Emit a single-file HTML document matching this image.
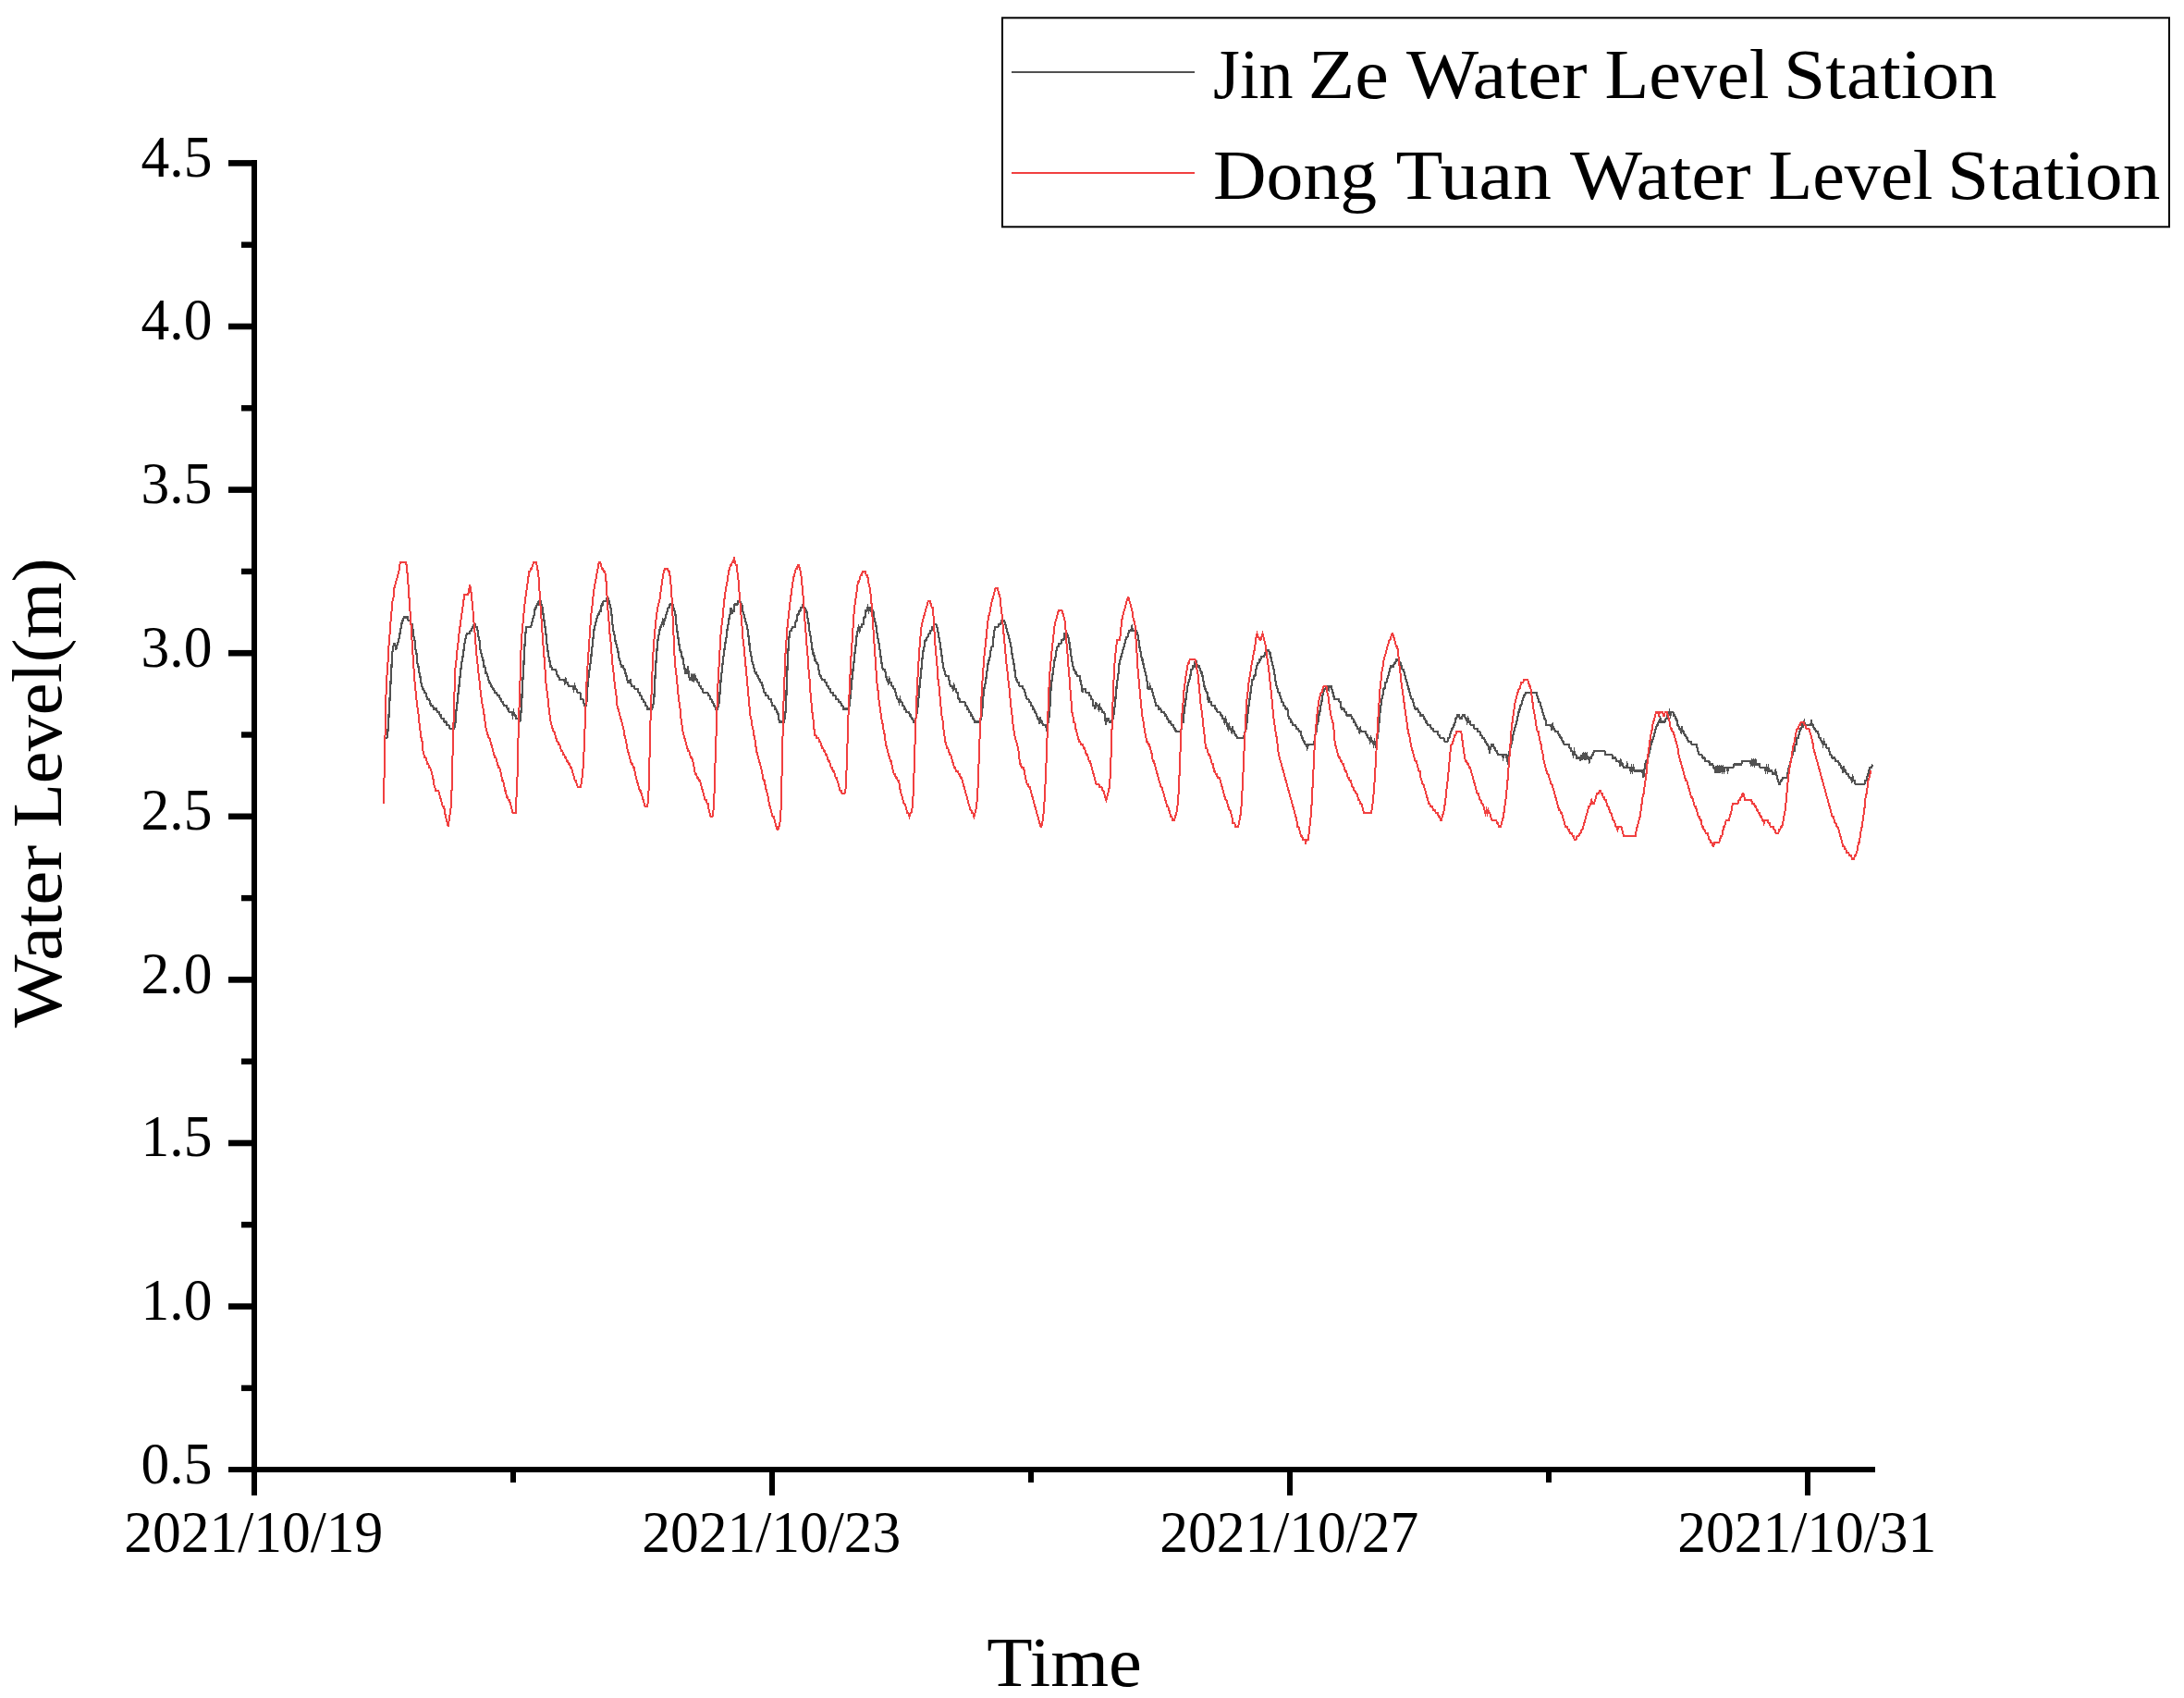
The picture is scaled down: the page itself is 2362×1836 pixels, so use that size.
<!DOCTYPE html>
<html lang="en"><head><meta charset="utf-8"><title>Water Level</title>
<style>html,body{margin:0;padding:0;background:#fff}svg{display:block}</style></head>
<body>
<svg width="2362" height="1836" viewBox="0 0 2362 1836">
<rect width="2362" height="1836" fill="#fff"/>
<polyline fill="none" stroke="#515151" stroke-width="2.2" stroke-linejoin="miter" shape-rendering="crispEdges" points="415.5,798.23 418.42,798.23 419.39,791.17 420.36,777.04 421.33,759.38 422.3,741.72 423.28,724.06 424.25,706.4 425.22,699.34 426.19,695.8 427.16,695.8 428.14,702.87 429.11,699.34 430.08,695.8 431.05,692.27 432.02,688.74 433,681.68 433.97,678.14 434.94,671.08 435.91,671.08 436.88,667.55 440.77,667.55 441.74,671.08 443.69,671.08 444.66,674.61 445.63,674.61 446.6,681.68 447.58,688.74 448.55,692.27 449.52,702.87 450.49,706.4 451.46,717 452.44,720.53 453.41,727.59 454.38,731.12 455.35,738.19 456.32,741.72 457.3,745.25 458.27,745.25 459.24,748.78 460.21,748.78 461.18,752.32 462.16,755.85 464.1,755.85 465.07,759.38 466.04,762.91 467.99,762.91 468.96,766.44 471.88,766.44 472.85,769.98 474.79,769.98 475.76,773.51 476.74,773.51 477.71,777.04 479.65,777.04 480.62,780.57 482.57,780.57 483.54,784.1 485.48,784.1 486.46,787.64 491.32,787.64 492.29,784.1 493.26,769.98 494.23,762.91 495.2,752.32 496.18,745.25 497.15,734.66 498.12,727.59 499.09,717 500.06,713.46 501.04,706.4 502.01,699.34 502.98,692.27 503.95,688.74 504.92,685.21 507.84,685.21 508.81,681.68 509.78,681.68 510.76,678.14 511.73,678.14 512.7,674.61 513.67,674.61 514.64,678.14 515.62,678.14 516.59,681.68 517.56,688.74 518.53,692.27 519.5,702.87 520.48,706.4 521.45,709.93 522.42,713.46 523.39,720.53 524.36,720.53 525.34,727.59 526.31,727.59 527.28,731.12 528.25,734.66 529.22,738.19 530.2,738.19 531.17,741.72 532.14,741.72 533.11,745.25 534.08,745.25 535.06,748.78 537,748.78 537.97,752.32 539.92,752.32 540.89,755.85 541.86,755.85 542.83,759.38 543.8,759.38 544.78,762.91 547.69,762.91 548.66,766.44 549.64,766.44 550.61,769.98 553.52,769.98 554.5,773.51 555.47,769.98 556.44,773.51 557.41,773.51 558.38,777.04 561.3,777.04 562.27,780.57 563.24,773.51 564.22,759.38 565.19,738.19 566.16,724.06 567.13,702.87 568.1,688.74 569.08,678.14 573.94,678.14 574.91,674.61 575.88,671.08 576.85,667.55 577.82,664.02 578.8,656.95 579.77,656.95 580.74,653.42 581.71,653.42 582.68,649.89 584.63,649.89 585.6,653.42 586.57,656.95 587.54,664.02 588.52,671.08 589.49,678.14 590.46,685.21 591.43,695.8 592.4,702.87 593.38,709.93 594.35,713.46 595.32,720.53 596.29,720.53 597.26,724.06 601.15,724.06 602.12,727.59 603.1,731.12 604.07,731.12 605.04,734.66 609.9,734.66 610.87,738.19 611.84,734.66 612.82,738.19 613.79,738.19 614.76,741.72 619.62,741.72 620.59,745.25 621.56,741.72 622.54,745.25 623.51,745.25 624.48,748.78 627.4,748.78 628.37,755.85 630.31,755.85 631.28,759.38 632.26,762.91 634.2,762.91 635.17,745.25 636.14,734.66 637.12,727.59 638.09,720.53 639.06,713.46 640.03,702.87 641,695.8 641.98,685.21 642.95,678.14 643.92,674.61 644.89,671.08 645.86,667.55 646.84,664.02 647.81,664.02 648.78,660.48 649.75,660.48 650.72,653.42 651.7,653.42 652.67,649.89 655.58,649.89 656.56,646.36 657.53,646.36 658.5,649.89 659.47,653.42 660.44,656.95 661.42,664.02 662.39,674.61 663.36,681.68 664.33,685.21 665.3,692.27 666.28,695.8 667.25,699.34 668.22,702.87 669.19,709.93 670.16,713.46 671.14,717 672.11,720.53 674.05,720.53 675.02,724.06 676,724.06 676.97,731.12 677.94,731.12 678.91,738.19 680.86,738.19 681.83,734.66 682.8,741.72 685.72,741.72 686.69,745.25 689.6,745.25 690.58,748.78 691.55,748.78 692.52,752.32 693.49,752.32 694.46,755.85 695.44,755.85 696.41,759.38 697.38,759.38 698.35,762.91 699.32,762.91 700.3,766.44 705.16,766.44 706.13,762.91 707.1,759.38 708.07,741.72 709.04,720.53 710.02,709.93 710.99,695.8 711.96,688.74 712.93,685.21 713.9,678.14 714.88,678.14 715.85,674.61 716.82,671.08 717.79,674.61 718.76,671.08 719.74,667.55 720.71,664.02 721.68,660.48 722.65,656.95 723.62,656.95 724.6,653.42 727.51,653.42 728.48,656.95 729.46,660.48 730.43,664.02 731.4,674.61 732.37,681.68 733.34,688.74 734.32,695.8 735.29,702.87 736.26,702.87 737.23,709.93 738.2,709.93 739.18,717 740.15,720.53 741.12,727.59 743.06,727.59 744.04,720.53 745.01,731.12 745.98,734.66 746.95,734.66 747.92,731.12 748.9,734.66 749.87,731.12 750.84,734.66 751.81,731.12 752.78,734.66 753.76,734.66 754.73,738.19 755.7,738.19 756.67,741.72 757.64,741.72 758.62,745.25 759.59,745.25 760.56,748.78 765.42,748.78 766.39,752.32 767.36,752.32 768.34,755.85 769.31,755.85 770.28,759.38 771.25,759.38 772.22,762.91 773.2,762.91 774.17,766.44 776.11,766.44 777.08,762.91 778.06,755.85 779.03,741.72 780,731.12 780.97,724.06 781.94,713.46 782.92,706.4 783.89,699.34 784.86,692.27 785.83,688.74 786.8,678.14 787.78,674.61 788.75,667.55 789.72,664.02 790.69,656.95 791.66,664.02 792.64,660.48 793.61,660.48 794.58,653.42 797.5,653.42 798.47,649.89 800.41,649.89 801.38,653.42 802.36,653.42 803.33,660.48 804.3,664.02 805.27,667.55 806.24,671.08 807.22,674.61 808.19,678.14 809.16,685.21 810.13,692.27 811.1,702.87 812.08,706.4 813.05,713.46 814.02,717 814.99,720.53 815.96,724.06 816.94,727.59 817.91,727.59 818.88,731.12 819.85,731.12 820.82,734.66 821.8,734.66 822.77,738.19 823.74,738.19 824.71,741.72 825.68,745.25 826.66,748.78 827.63,748.78 828.6,752.32 830.54,752.32 831.52,755.85 833.46,755.85 834.43,759.38 835.4,762.91 837.35,762.91 838.32,766.44 839.29,766.44 840.26,769.98 841.24,769.98 842.21,777.04 843.18,780.57 848.04,780.57 849.01,773.51 849.98,766.44 850.96,734.66 851.93,713.46 852.9,695.8 853.87,685.21 854.84,681.68 855.82,681.68 856.79,678.14 859.7,678.14 860.68,671.08 861.65,671.08 862.62,664.02 863.59,664.02 864.56,660.48 865.54,660.48 866.51,656.95 867.48,656.95 868.45,653.42 869.42,656.95 870.4,656.95 871.37,660.48 872.34,660.48 873.31,667.55 874.28,671.08 875.26,681.68 876.23,685.21 877.2,692.27 878.17,699.34 879.14,706.4 880.12,706.4 881.09,713.46 882.06,713.46 883.03,717 884,717 884.98,720.53 885.95,727.59 886.92,731.12 887.89,731.12 888.86,734.66 891.78,734.66 892.75,738.19 893.72,738.19 894.7,741.72 895.67,741.72 896.64,745.25 897.61,745.25 898.58,748.78 900.53,748.78 901.5,752.32 903.44,752.32 904.42,755.85 906.36,755.85 907.33,759.38 909.28,759.38 910.25,762.91 911.22,762.91 912.19,766.44 918.02,766.44 919,759.38 919.97,752.32 920.94,738.19 921.91,731.12 922.88,720.53 923.86,713.46 924.83,702.87 925.8,695.8 926.77,685.21 927.74,681.68 928.72,678.14 929.69,681.68 930.66,678.14 931.63,678.14 932.6,674.61 933.58,674.61 934.55,667.55 935.52,667.55 936.49,660.48 937.46,660.48 938.44,656.95 939.41,660.48 940.38,656.95 941.35,656.95 942.32,660.48 944.27,660.48 945.24,667.55 946.21,671.08 947.18,674.61 948.16,681.68 949.13,688.74 950.1,692.27 951.07,699.34 952.04,706.4 953.02,713.46 953.99,720.53 954.96,724.06 956.9,724.06 957.88,727.59 958.85,734.66 959.82,734.66 960.79,738.19 961.76,734.66 962.74,738.19 963.71,738.19 964.68,741.72 965.65,741.72 966.62,745.25 967.6,745.25 968.57,748.78 969.54,752.32 970.51,755.85 971.48,755.85 972.46,759.38 973.43,755.85 974.4,759.38 975.37,759.38 976.34,762.91 977.32,762.91 978.29,766.44 979.26,766.44 980.23,769.98 983.15,769.98 984.12,773.51 985.09,773.51 986.06,777.04 987.04,777.04 988.01,780.57 989.95,780.57 990.92,773.51 991.9,769.98 992.87,759.38 993.84,752.32 994.81,738.19 995.78,731.12 996.76,720.53 997.73,709.93 998.7,702.87 999.67,699.34 1000.64,692.27 1001.62,692.27 1002.59,688.74 1003.56,688.74 1004.53,685.21 1005.5,685.21 1006.48,681.68 1007.45,681.68 1008.42,678.14 1009.39,678.14 1010.36,674.61 1012.31,674.61 1013.28,678.14 1014.25,681.68 1015.22,688.74 1016.2,692.27 1017.17,699.34 1018.14,706.4 1019.11,713.46 1020.08,720.53 1021.06,724.06 1022.03,727.59 1023,731.12 1025.92,731.12 1026.89,738.19 1027.86,741.72 1029.8,741.72 1030.78,745.25 1031.75,741.72 1032.72,745.25 1033.69,745.25 1034.66,748.78 1035.64,748.78 1036.61,755.85 1037.58,755.85 1038.55,759.38 1043.41,759.38 1044.38,762.91 1045.36,762.91 1046.33,766.44 1047.3,766.44 1048.27,769.98 1049.24,769.98 1050.22,773.51 1051.19,773.51 1052.16,777.04 1053.13,777.04 1054.1,780.57 1059.94,780.57 1060.91,777.04 1061.88,773.51 1062.85,759.38 1063.82,748.78 1064.8,741.72 1065.77,738.19 1066.74,731.12 1067.71,724.06 1068.68,717 1069.66,713.46 1070.63,709.93 1071.6,702.87 1072.57,699.34 1073.54,699.34 1074.52,688.74 1075.49,681.68 1076.46,678.14 1079.38,678.14 1080.35,674.61 1082.29,674.61 1083.26,671.08 1086.18,671.08 1087.15,674.61 1088.12,678.14 1089.1,681.68 1090.07,685.21 1091.04,688.74 1092.01,692.27 1092.98,695.8 1093.96,702.87 1094.93,709.93 1095.9,713.46 1096.87,720.53 1097.84,727.59 1098.82,734.66 1099.79,734.66 1100.76,738.19 1101.73,738.19 1102.7,741.72 1105.62,741.72 1106.59,745.25 1107.56,745.25 1108.54,748.78 1109.51,752.32 1110.48,755.85 1112.42,755.85 1113.4,759.38 1114.37,759.38 1115.34,762.91 1116.31,762.91 1117.28,766.44 1118.26,766.44 1119.23,769.98 1120.2,769.98 1121.17,773.51 1122.14,777.04 1123.12,777.04 1124.09,780.57 1125.06,777.04 1126.03,780.57 1127,780.57 1127.98,784.1 1130.89,784.1 1131.86,787.64 1132.84,784.1 1133.81,780.57 1134.78,773.51 1135.75,759.38 1136.72,741.72 1137.7,734.66 1138.67,727.59 1139.64,720.53 1140.61,713.46 1141.58,709.93 1142.56,702.87 1143.53,699.34 1144.5,699.34 1145.47,695.8 1147.42,695.8 1148.39,692.27 1150.33,692.27 1151.3,685.21 1154.22,685.21 1155.19,688.74 1156.16,692.27 1157.14,699.34 1158.11,706.4 1159.08,713.46 1160.05,717 1161.02,724.06 1162,724.06 1162.97,727.59 1163.94,727.59 1164.91,731.12 1167.83,731.12 1168.8,738.19 1169.77,741.72 1170.74,748.78 1171.72,745.25 1173.66,745.25 1174.63,748.78 1177.55,748.78 1178.52,752.32 1179.49,752.32 1180.46,755.85 1181.44,755.85 1182.41,762.91 1183.38,762.91 1184.35,766.44 1185.32,759.38 1186.3,762.91 1187.27,762.91 1188.24,766.44 1189.21,762.91 1190.18,766.44 1191.16,766.44 1192.13,769.98 1194.07,769.98 1195.04,773.51 1196.02,784.1 1196.99,777.04 1198.93,777.04 1199.9,780.57 1201.85,780.57 1202.82,777.04 1203.79,777.04 1204.76,769.98 1205.74,762.91 1206.71,752.32 1207.68,741.72 1208.65,734.66 1209.62,727.59 1210.6,717 1211.57,713.46 1212.54,709.93 1213.51,706.4 1214.48,702.87 1215.46,699.34 1216.43,695.8 1217.4,692.27 1218.37,688.74 1219.34,688.74 1220.32,685.21 1221.29,681.68 1223.23,681.68 1224.2,678.14 1225.18,681.68 1229.06,681.68 1230.04,685.21 1231.01,688.74 1231.98,695.8 1232.95,702.87 1233.92,706.4 1234.9,713.46 1235.87,713.46 1236.84,720.53 1237.81,724.06 1238.78,727.59 1239.76,731.12 1240.73,738.19 1241.7,745.25 1242.67,745.25 1243.64,741.72 1244.62,745.25 1245.59,745.25 1246.56,748.78 1247.53,752.32 1248.5,755.85 1249.48,759.38 1250.45,762.91 1252.39,762.91 1253.36,766.44 1255.31,766.44 1256.28,769.98 1259.2,769.98 1260.17,773.51 1261.14,773.51 1262.11,777.04 1263.08,777.04 1264.06,780.57 1266,780.57 1266.97,784.1 1268.92,784.1 1269.89,787.64 1270.86,787.64 1271.83,791.17 1276.69,791.17 1277.66,787.64 1278.64,780.57 1279.61,780.57 1280.58,769.98 1281.55,762.91 1282.52,755.85 1283.5,748.78 1284.47,741.72 1285.44,738.19 1286.41,734.66 1287.38,731.12 1288.36,724.06 1289.33,724.06 1290.3,720.53 1291.27,720.53 1292.24,717 1293.22,720.53 1294.19,717 1295.16,720.53 1297.1,720.53 1298.08,724.06 1299.05,727.59 1300.02,727.59 1300.99,734.66 1301.96,738.19 1302.94,745.25 1303.91,745.25 1304.88,748.78 1305.85,748.78 1306.82,759.38 1307.8,755.85 1308.77,759.38 1309.74,759.38 1310.71,762.91 1313.63,762.91 1314.6,766.44 1315.57,766.44 1316.54,769.98 1319.46,769.98 1320.43,773.51 1321.4,773.51 1322.38,777.04 1323.35,777.04 1324.32,780.57 1325.29,777.04 1326.26,780.57 1327.24,784.1 1328.21,787.64 1329.18,784.1 1330.15,787.64 1331.12,787.64 1332.1,791.17 1333.07,787.64 1334.04,791.17 1335.01,791.17 1335.98,794.7 1336.96,794.7 1337.93,798.23 1344.73,798.23 1345.7,794.7 1346.68,791.17 1347.65,787.64 1348.62,780.57 1349.59,769.98 1350.56,762.91 1351.54,755.85 1352.51,748.78 1353.48,741.72 1354.45,734.66 1355.42,734.66 1356.4,731.12 1357.37,731.12 1358.34,724.06 1359.31,720.53 1360.28,717 1361.26,717 1362.23,713.46 1363.2,713.46 1364.17,709.93 1367.09,709.93 1368.06,706.4 1369.03,706.4 1370,702.87 1371.95,702.87 1372.92,706.4 1373.89,706.4 1374.86,713.46 1375.84,717 1376.81,720.53 1377.78,724.06 1378.75,731.12 1379.72,738.19 1380.7,741.72 1381.67,745.25 1382.64,748.78 1383.61,748.78 1384.58,752.32 1385.56,755.85 1386.53,759.38 1387.5,759.38 1388.47,762.91 1389.44,762.91 1390.42,766.44 1392.36,766.44 1393.33,773.51 1394.3,777.04 1395.28,777.04 1396.25,780.57 1397.22,780.57 1398.19,784.1 1401.11,784.1 1402.08,787.64 1404.02,787.64 1405,791.17 1406.94,791.17 1407.91,798.23 1408.88,798.23 1409.86,801.76 1410.83,801.76 1411.8,805.3 1412.77,805.3 1413.74,808.83 1414.72,805.3 1420.55,805.3 1421.52,801.76 1422.49,794.7 1423.46,791.17 1424.44,784.1 1425.41,780.57 1426.38,773.51 1427.35,769.98 1428.32,762.91 1429.3,759.38 1430.27,752.32 1431.24,748.78 1432.21,745.25 1433.18,745.25 1434.16,741.72 1436.1,741.72 1437.07,745.25 1438.04,741.72 1439.99,741.72 1440.96,748.78 1441.93,748.78 1442.9,755.85 1447.76,755.85 1448.74,759.38 1449.71,759.38 1450.68,766.44 1453.6,766.44 1454.57,769.98 1455.54,769.98 1456.51,773.51 1461.37,773.51 1462.34,777.04 1463.32,777.04 1464.29,780.57 1465.26,780.57 1466.23,784.1 1467.2,784.1 1468.18,787.64 1469.15,787.64 1470.12,791.17 1471.09,787.64 1472.06,791.17 1476.92,791.17 1477.9,794.7 1478.87,794.7 1479.84,798.23 1480.81,798.23 1481.78,801.76 1482.76,798.23 1483.73,801.76 1484.7,801.76 1485.67,805.3 1486.64,801.76 1487.62,805.3 1488.59,801.76 1489.56,798.23 1490.53,791.17 1491.5,780.57 1492.48,769.98 1493.45,762.91 1494.42,755.85 1495.39,752.32 1496.36,745.25 1497.34,745.25 1498.31,738.19 1499.28,738.19 1500.25,734.66 1501.22,731.12 1502.2,727.59 1503.17,724.06 1504.14,720.53 1507.06,720.53 1508.03,717 1509,717 1509.97,713.46 1512.89,713.46 1513.86,717 1514.83,717 1515.8,720.53 1516.78,724.06 1517.75,724.06 1518.72,727.59 1519.69,731.12 1520.66,734.66 1521.64,738.19 1522.61,741.72 1523.58,745.25 1524.55,748.78 1525.52,752.32 1526.5,755.85 1527.47,755.85 1528.44,759.38 1529.41,762.91 1530.38,766.44 1533.3,766.44 1534.27,769.98 1535.24,769.98 1536.22,773.51 1539.13,773.51 1540.1,777.04 1541.08,777.04 1542.05,780.57 1543.02,780.57 1543.99,784.1 1546.91,784.1 1547.88,787.64 1549.82,787.64 1550.8,791.17 1554.68,791.17 1555.66,794.7 1556.63,794.7 1557.6,798.23 1561.49,798.23 1562.46,801.76 1565.38,801.76 1566.35,798.23 1567.32,798.23 1568.29,794.7 1569.26,791.17 1570.24,787.64 1571.21,787.64 1572.18,784.1 1573.15,784.1 1574.12,777.04 1575.1,777.04 1576.07,773.51 1578.01,773.51 1578.98,777.04 1580.93,777.04 1581.9,773.51 1583.84,773.51 1584.82,777.04 1585.79,777.04 1586.76,780.57 1587.73,777.04 1588.7,780.57 1589.68,780.57 1590.65,784.1 1593.56,784.1 1594.54,787.64 1597.45,787.64 1598.42,791.17 1600.37,791.17 1601.34,794.7 1602.31,794.7 1603.28,798.23 1605.23,798.23 1606.2,801.76 1607.17,801.76 1608.14,805.3 1609.12,805.3 1610.09,808.83 1611.06,812.36 1612.03,808.83 1613,805.3 1614.95,805.3 1615.92,808.83 1616.89,808.83 1617.86,812.36 1618.84,812.36 1619.81,815.89 1624.67,815.89 1625.64,819.42 1626.61,815.89 1628.56,815.89 1629.53,819.42 1630.5,815.89 1631.47,826.49 1632.44,812.36 1633.42,808.83 1634.39,805.3 1635.36,801.76 1636.33,794.7 1637.3,791.17 1638.28,787.64 1639.25,784.1 1640.22,780.57 1641.19,777.04 1642.16,769.98 1643.14,769.98 1644.11,762.91 1645.08,762.91 1646.05,759.38 1647.02,755.85 1648,752.32 1648.97,752.32 1649.94,748.78 1661.6,748.78 1662.58,752.32 1663.55,755.85 1664.52,759.38 1665.49,759.38 1666.46,762.91 1667.44,766.44 1668.41,769.98 1669.38,773.51 1670.35,777.04 1671.32,777.04 1672.3,784.1 1677.16,784.1 1678.13,787.64 1679.1,784.1 1680.07,787.64 1681.04,787.64 1682.02,791.17 1684.93,791.17 1685.9,794.7 1686.88,794.7 1687.85,798.23 1688.82,798.23 1689.79,801.76 1690.76,801.76 1691.74,805.3 1696.6,805.3 1697.57,808.83 1698.54,808.83 1699.51,812.36 1700.48,812.36 1701.46,815.89 1702.43,812.36 1703.4,815.89 1704.37,815.89 1705.34,819.42 1708.26,819.42 1709.23,822.96 1710.2,815.89 1711.18,819.42 1712.15,815.89 1713.12,819.42 1714.09,815.89 1715.06,819.42 1716.04,815.89 1717.01,819.42 1717.98,819.42 1718.95,822.96 1719.92,819.42 1720.9,819.42 1721.87,815.89 1722.84,815.89 1723.81,812.36 1735.48,812.36 1736.45,815.89 1743.25,815.89 1744.22,819.42 1747.14,819.42 1748.11,822.96 1751.03,822.96 1752,826.49 1752.97,822.96 1753.94,826.49 1754.92,826.49 1755.89,830.02 1758.8,830.02 1759.78,826.49 1760.75,830.02 1762.69,830.02 1763.66,833.55 1764.64,830.02 1765.61,833.55 1766.58,830.02 1767.55,833.55 1776.3,833.55 1777.27,840.62 1778.24,833.55 1779.22,826.49 1780.19,822.96 1781.16,822.96 1782.13,819.42 1783.1,815.89 1784.08,812.36 1785.05,808.83 1786.02,801.76 1786.99,801.76 1787.96,798.23 1788.94,794.7 1789.91,791.17 1790.88,787.64 1791.85,784.1 1792.82,784.1 1793.8,780.57 1794.77,780.57 1795.74,777.04 1796.71,780.57 1800.6,780.57 1801.57,777.04 1802.54,777.04 1803.52,773.51 1804.49,773.51 1805.46,769.98 1806.43,773.51 1807.4,769.98 1809.35,769.98 1810.32,773.51 1811.29,773.51 1812.26,777.04 1813.24,777.04 1814.21,784.1 1815.18,784.1 1816.15,787.64 1817.12,787.64 1818.1,791.17 1819.07,787.64 1820.04,791.17 1821.01,791.17 1821.98,794.7 1822.96,794.7 1823.93,798.23 1824.9,798.23 1825.87,801.76 1828.79,801.76 1829.76,805.3 1834.62,805.3 1835.59,808.83 1836.56,812.36 1837.54,815.89 1840.45,815.89 1841.42,819.42 1843.37,819.42 1844.34,822.96 1848.23,822.96 1849.2,826.49 1852.12,826.49 1853.09,830.02 1854.06,830.02 1855.03,833.55 1856,830.02 1856.98,833.55 1857.95,830.02 1858.92,833.55 1859.89,830.02 1860.86,833.55 1861.84,830.02 1862.81,833.55 1863.78,830.02 1864.75,833.55 1865.72,830.02 1867.67,830.02 1868.64,833.55 1869.61,830.02 1874.47,830.02 1875.44,826.49 1883.22,826.49 1884.19,822.96 1892.94,822.96 1893.91,826.49 1894.88,822.96 1895.86,826.49 1896.83,822.96 1897.8,826.49 1898.77,822.96 1899.74,826.49 1902.66,826.49 1903.63,830.02 1908.49,830.02 1909.46,833.55 1910.44,830.02 1911.41,833.55 1912.38,830.02 1913.35,833.55 1916.27,833.55 1917.24,837.08 1919.18,837.08 1920.16,833.55 1921.13,837.08 1922.1,840.62 1923.07,844.15 1924.04,847.68 1925.02,847.68 1925.99,844.15 1926.96,844.15 1927.93,840.62 1932.79,840.62 1933.76,833.55 1934.74,830.02 1935.71,826.49 1936.68,822.96 1937.65,819.42 1938.62,815.89 1939.6,812.36 1940.57,812.36 1941.54,805.3 1942.51,805.3 1943.48,798.23 1944.46,798.23 1945.43,794.7 1946.4,791.17 1947.37,787.64 1948.34,787.64 1949.32,780.57 1950.29,784.1 1951.26,780.57 1952.23,784.1 1958.06,784.1 1959.04,780.57 1960.01,784.1 1960.98,784.1 1961.95,787.64 1962.92,787.64 1963.9,791.17 1965.84,791.17 1966.81,794.7 1967.78,798.23 1968.76,798.23 1969.73,801.76 1970.7,801.76 1971.67,805.3 1972.64,801.76 1973.62,805.3 1974.59,805.3 1975.56,808.83 1977.5,808.83 1978.48,812.36 1979.45,815.89 1980.42,815.89 1981.39,819.42 1984.31,819.42 1985.28,822.96 1988.2,822.96 1989.17,826.49 1990.14,826.49 1991.11,830.02 1992.08,830.02 1993.06,833.55 1994.03,830.02 1995,833.55 1995.97,833.55 1996.94,837.08 1998.89,837.08 1999.86,840.62 2001.8,840.62 2002.78,844.15 2003.75,840.62 2004.72,844.15 2005.69,844.15 2006.66,847.68 2016.38,847.68 2017.36,844.15 2018.33,844.15 2019.3,840.62 2020.27,837.08 2021.24,833.55 2022.22,830.02 2024.16,830.02 2025.13,826.49"/>
<polyline fill="none" stroke="#f14040" stroke-width="2" stroke-linejoin="miter" shape-rendering="crispEdges" points="414.8,868.87 415.77,830.02 416.74,784.1 417.72,741.72 418.69,727.59 419.66,713.46 420.63,695.8 421.6,685.21 422.58,671.08 423.55,660.48 424.52,649.89 425.49,646.36 426.46,635.76 427.44,632.23 428.41,628.7 429.38,625.16 430.35,621.63 431.32,618.1 432.3,611.04 433.27,607.5 439.1,607.5 440.07,614.57 441.04,625.16 442.02,639.29 442.99,653.42 443.96,667.55 444.93,681.68 445.9,699.34 446.88,713.46 447.85,727.59 448.82,741.72 449.79,748.78 450.76,759.38 451.74,766.44 452.71,773.51 453.68,784.1 454.65,791.17 455.62,798.23 456.6,801.76 457.57,812.36 458.54,815.89 459.51,819.42 460.48,819.42 461.46,822.96 462.43,826.49 463.4,826.49 464.37,830.02 465.34,830.02 466.32,833.55 467.29,837.08 468.26,840.62 469.23,847.68 470.2,851.21 471.18,854.74 474.09,854.74 475.06,858.28 476.04,861.81 477.01,865.34 477.98,868.87 478.95,872.4 479.92,872.4 480.9,875.94 481.87,883 482.84,886.53 483.81,890.06 484.78,893.6 485.76,886.53 486.73,879.47 487.7,872.4 488.67,851.21 489.64,812.36 490.62,777.04 491.59,745.25 492.56,720.53 493.53,713.46 494.5,702.87 495.48,695.8 496.45,685.21 497.42,678.14 498.39,671.08 499.36,664.02 500.34,656.95 501.31,649.89 502.28,642.82 506.17,642.82 507.14,639.29 508.11,632.23 509.08,635.76 510.06,646.36 511.03,653.42 512,667.55 512.97,678.14 513.94,688.74 514.92,702.87 515.89,713.46 516.86,720.53 517.83,731.12 518.8,738.19 519.78,748.78 520.75,755.85 521.72,762.91 522.69,766.44 523.66,773.51 524.64,780.57 525.61,787.64 526.58,791.17 527.55,794.7 528.52,798.23 529.5,798.23 530.47,801.76 531.44,805.3 532.41,808.83 533.38,812.36 534.36,815.89 535.33,819.42 536.3,819.42 537.27,822.96 538.24,826.49 539.22,830.02 540.19,830.02 541.16,833.55 542.13,837.08 543.1,844.15 544.08,844.15 545.05,847.68 546.02,854.74 546.99,854.74 547.96,861.81 548.94,861.81 549.91,865.34 550.88,865.34 551.85,868.87 552.82,872.4 553.8,875.94 554.77,879.47 557.68,879.47 558.66,858.28 559.63,837.08 560.6,794.7 561.57,762.91 562.54,734.66 563.52,702.87 564.49,685.21 565.46,674.61 566.43,664.02 567.4,653.42 568.38,646.36 569.35,639.29 570.32,632.23 571.29,625.16 572.26,618.1 573.24,618.1 574.21,614.57 575.18,614.57 576.15,611.04 577.12,607.5 580.04,607.5 581.01,614.57 581.98,618.1 582.96,628.7 583.93,646.36 584.9,660.48 585.87,674.61 586.84,688.74 587.82,702.87 588.79,713.46 589.76,727.59 590.73,741.72 591.7,748.78 592.68,755.85 593.65,766.44 594.62,773.51 595.59,780.57 596.56,784.1 597.54,787.64 598.51,791.17 599.48,791.17 600.45,794.7 601.42,798.23 602.4,801.76 603.37,801.76 604.34,805.3 605.31,805.3 606.28,808.83 607.26,812.36 608.23,812.36 609.2,815.89 610.17,815.89 611.14,819.42 612.12,819.42 613.09,822.96 614.06,822.96 615.03,826.49 616,826.49 616.98,830.02 617.95,830.02 618.92,833.55 619.89,837.08 620.86,840.62 621.84,844.15 622.81,844.15 623.78,847.68 624.75,851.21 627.67,851.21 628.64,847.68 629.61,840.62 630.58,830.02 631.56,812.36 632.53,787.64 633.5,762.91 634.47,738.19 635.44,720.53 636.42,706.4 637.39,692.27 638.36,678.14 639.33,664.02 640.3,656.95 641.28,646.36 642.25,639.29 643.22,632.23 644.19,628.7 645.16,621.63 646.14,618.1 647.11,611.04 648.08,607.5 649.05,607.5 650.02,611.04 651,614.57 651.97,614.57 652.94,618.1 653.91,618.1 654.88,621.63 655.86,632.23 656.83,649.89 657.8,664.02 658.77,674.61 659.74,688.74 660.72,695.8 661.69,709.93 662.66,720.53 663.63,727.59 664.6,738.19 665.58,745.25 666.55,752.32 667.52,762.91 668.49,766.44 669.46,769.98 670.44,773.51 671.41,777.04 672.38,780.57 673.35,784.1 674.32,787.64 675.3,794.7 676.27,798.23 677.24,801.76 678.21,808.83 679.18,812.36 680.16,815.89 681.13,819.42 682.1,822.96 683.07,826.49 684.04,826.49 685.02,830.02 685.99,830.02 686.96,837.08 687.93,840.62 688.9,844.15 689.88,847.68 690.85,851.21 691.82,854.74 692.79,854.74 693.76,858.28 694.74,861.81 695.71,865.34 696.68,868.87 697.65,872.4 699.6,872.4 700.57,868.87 701.54,854.74 702.51,819.42 703.48,780.57 704.46,752.32 705.43,727.59 706.4,706.4 707.37,692.27 708.34,681.68 709.32,671.08 710.29,664.02 711.26,656.95 712.23,653.42 713.2,649.89 714.18,642.82 715.15,635.76 716.12,628.7 717.09,621.63 718.06,618.1 719.04,614.57 721.95,614.57 722.92,618.1 723.9,618.1 724.87,625.16 725.84,635.76 726.81,649.89 727.78,671.08 728.76,692.27 729.73,713.46 730.7,724.06 731.67,731.12 732.64,741.72 733.62,752.32 734.59,759.38 735.56,766.44 736.53,777.04 737.5,784.1 738.48,791.17 739.45,794.7 740.42,798.23 741.39,801.76 742.36,805.3 743.34,808.83 744.31,812.36 745.28,812.36 746.25,815.89 747.22,819.42 748.2,819.42 749.17,822.96 750.14,826.49 751.11,833.55 752.08,837.08 753.06,837.08 754.03,840.62 755,840.62 755.97,844.15 756.94,844.15 757.92,847.68 758.89,851.21 759.86,854.74 760.83,858.28 761.8,861.81 762.78,865.34 763.75,865.34 764.72,868.87 765.69,868.87 766.66,875.94 767.64,879.47 768.61,883 770.55,883 771.52,875.94 772.5,858.28 773.47,826.49 774.44,798.23 775.41,766.44 776.38,741.72 777.36,724.06 778.33,706.4 779.3,688.74 780.27,678.14 781.24,671.08 782.22,660.48 783.19,649.89 784.16,642.82 785.13,635.76 786.1,632.23 787.08,625.16 788.05,618.1 789.02,614.57 789.99,611.04 790.96,611.04 791.94,607.5 792.91,607.5 793.88,603.97 794.85,607.5 795.82,611.04 796.8,611.04 797.77,621.63 798.74,628.7 799.71,642.82 800.68,653.42 801.66,667.55 802.63,678.14 803.6,692.27 804.57,699.34 805.54,709.93 806.52,720.53 807.49,731.12 808.46,741.72 809.43,752.32 810.4,762.91 811.38,773.51 812.35,777.04 813.32,784.1 814.29,787.64 815.26,794.7 816.24,798.23 817.21,805.3 818.18,812.36 819.15,815.89 820.12,819.42 821.1,822.96 822.07,826.49 823.04,830.02 824.01,833.55 824.98,840.62 825.96,844.15 826.93,844.15 827.9,851.21 828.87,854.74 829.84,858.28 830.82,861.81 831.79,868.87 832.76,872.4 833.73,875.94 834.7,879.47 835.68,883 836.65,883 837.62,886.53 838.59,890.06 839.56,893.6 840.54,897.13 841.51,897.13 842.48,893.6 843.45,890.06 844.42,879.47 845.4,844.15 846.37,801.76 847.34,762.91 848.31,738.19 849.28,709.93 850.26,695.8 851.23,681.68 852.2,671.08 853.17,664.02 854.14,653.42 855.12,646.36 856.09,639.29 857.06,632.23 858.03,625.16 859,621.63 859.98,618.1 860.95,614.57 861.92,614.57 862.89,611.04 863.86,611.04 864.84,614.57 865.81,618.1 866.78,625.16 867.75,635.76 868.72,646.36 869.7,660.48 870.67,674.61 871.64,685.21 872.61,699.34 873.58,709.93 874.56,724.06 875.53,734.66 876.5,748.78 877.47,759.38 878.44,769.98 879.42,777.04 880.39,787.64 881.36,794.7 882.33,794.7 883.3,798.23 885.25,798.23 886.22,801.76 887.19,801.76 888.16,805.3 889.14,808.83 890.11,808.83 891.08,812.36 892.05,812.36 893.02,815.89 894,815.89 894.97,819.42 895.94,822.96 896.91,822.96 897.88,826.49 898.86,830.02 899.83,830.02 900.8,833.55 901.77,833.55 902.74,837.08 903.72,840.62 904.69,840.62 905.66,844.15 906.63,847.68 907.6,851.21 908.58,854.74 909.55,854.74 910.52,858.28 913.44,858.28 914.41,854.74 915.38,837.08 916.35,808.83 917.32,777.04 918.3,755.85 919.27,734.66 920.24,713.46 921.21,699.34 922.18,685.21 923.16,667.55 924.13,656.95 925.1,649.89 926.07,642.82 927.04,635.76 928.02,628.7 928.99,628.7 929.96,625.16 930.93,621.63 931.9,621.63 932.88,618.1 935.79,618.1 936.76,621.63 937.74,621.63 938.71,625.16 939.68,632.23 940.65,635.76 941.62,642.82 942.6,653.42 943.57,667.55 944.54,681.68 945.51,695.8 946.48,709.93 947.46,724.06 948.43,738.19 949.4,745.25 950.37,755.85 951.34,762.91 952.32,769.98 953.29,777.04 954.26,780.57 955.23,787.64 956.2,791.17 957.18,798.23 958.15,805.3 959.12,808.83 960.09,812.36 961.06,815.89 962.04,819.42 963.01,822.96 963.98,822.96 964.95,830.02 965.92,833.55 966.9,837.08 967.87,837.08 968.84,840.62 969.81,840.62 970.78,844.15 971.76,844.15 972.73,847.68 973.7,854.74 974.67,858.28 975.64,861.81 976.62,865.34 977.59,868.87 978.56,868.87 979.53,872.4 980.5,875.94 981.48,879.47 982.45,879.47 983.42,883 984.39,879.47 985.36,879.47 986.34,875.94 987.31,865.34 988.28,844.15 989.25,812.36 990.22,784.1 991.2,759.38 992.17,738.19 993.14,720.53 994.11,706.4 995.08,692.27 996.06,681.68 997.03,674.61 998,671.08 998.97,667.55 999.94,664.02 1000.92,660.48 1001.89,656.95 1002.86,653.42 1003.83,649.89 1005.78,649.89 1006.75,653.42 1007.72,656.95 1008.69,656.95 1009.66,667.55 1010.64,685.21 1011.61,699.34 1012.58,709.93 1013.55,720.53 1014.52,734.66 1015.5,741.72 1016.47,752.32 1017.44,762.91 1018.41,773.51 1019.38,777.04 1020.36,787.64 1021.33,794.7 1022.3,801.76 1023.27,805.3 1024.24,808.83 1025.22,808.83 1026.19,812.36 1027.16,815.89 1028.13,815.89 1029.1,819.42 1030.08,822.96 1031.05,826.49 1032.02,830.02 1032.99,830.02 1033.96,833.55 1035.91,833.55 1036.88,837.08 1037.85,837.08 1038.82,840.62 1039.8,840.62 1040.77,844.15 1041.74,847.68 1042.71,851.21 1043.68,854.74 1044.66,858.28 1045.63,861.81 1046.6,865.34 1047.57,868.87 1048.54,872.4 1049.52,875.94 1050.49,875.94 1051.46,879.47 1052.43,879.47 1053.4,883 1054.38,879.47 1055.35,875.94 1056.32,868.87 1057.29,858.28 1058.26,833.55 1059.24,805.3 1060.21,784.1 1061.18,759.38 1062.15,741.72 1063.12,727.59 1064.1,713.46 1065.07,702.87 1066.04,695.8 1067.01,685.21 1067.98,674.61 1068.96,667.55 1069.93,664.02 1070.9,660.48 1071.87,653.42 1072.84,649.89 1073.82,646.36 1074.79,642.82 1075.76,639.29 1076.73,635.76 1078.68,635.76 1079.65,639.29 1080.62,642.82 1081.59,646.36 1082.56,656.95 1083.54,664.02 1084.51,674.61 1085.48,685.21 1086.45,695.8 1087.42,706.4 1088.4,717 1089.37,724.06 1090.34,734.66 1091.31,741.72 1092.28,752.32 1093.26,762.91 1094.23,769.98 1095.2,780.57 1096.17,787.64 1097.14,794.7 1098.12,798.23 1099.09,801.76 1100.06,805.3 1101.03,808.83 1102,815.89 1102.98,826.49 1103.95,826.49 1104.92,830.02 1106.86,830.02 1107.84,833.55 1108.81,840.62 1109.78,844.15 1110.75,847.68 1111.72,847.68 1112.7,851.21 1113.67,851.21 1114.64,854.74 1115.61,858.28 1116.58,861.81 1117.56,865.34 1118.53,868.87 1119.5,872.4 1120.47,875.94 1121.44,879.47 1122.42,883 1123.39,886.53 1124.36,890.06 1125.33,893.6 1126.3,893.6 1127.28,890.06 1128.25,883 1129.22,872.4 1130.19,854.74 1131.16,833.55 1132.14,808.83 1133.11,780.57 1134.08,752.32 1135.05,731.12 1136.02,720.53 1137,709.93 1137.97,699.34 1138.94,692.27 1139.91,681.68 1140.88,674.61 1141.86,671.08 1142.83,667.55 1143.8,664.02 1144.77,660.48 1148.66,660.48 1149.63,664.02 1150.6,667.55 1151.58,671.08 1152.55,681.68 1153.52,695.8 1154.49,706.4 1155.46,720.53 1156.44,731.12 1157.41,745.25 1158.38,755.85 1159.35,769.98 1160.32,773.51 1161.3,780.57 1162.27,780.57 1163.24,787.64 1164.21,791.17 1165.18,794.7 1166.16,798.23 1167.13,801.76 1168.1,801.76 1169.07,805.3 1171.02,805.3 1171.99,808.83 1172.96,808.83 1173.93,812.36 1174.9,815.89 1175.88,815.89 1176.85,819.42 1177.82,822.96 1178.79,822.96 1179.76,826.49 1180.74,830.02 1181.71,833.55 1182.68,837.08 1183.65,840.62 1184.62,844.15 1185.6,847.68 1188.51,847.68 1189.48,851.21 1191.43,851.21 1192.4,854.74 1193.37,854.74 1194.34,858.28 1195.32,861.81 1196.29,865.34 1197.26,861.81 1198.23,858.28 1199.2,854.74 1200.18,847.68 1201.15,830.02 1202.12,801.76 1203.09,769.98 1204.06,745.25 1205.04,724.06 1206.01,709.93 1206.98,702.87 1207.95,692.27 1210.87,692.27 1211.84,685.21 1212.81,674.61 1213.78,667.55 1214.76,664.02 1215.73,660.48 1216.7,656.95 1217.67,653.42 1218.64,649.89 1219.62,646.36 1220.59,646.36 1221.56,649.89 1222.53,653.42 1223.5,656.95 1224.48,660.48 1225.45,667.55 1226.42,671.08 1227.39,674.61 1228.36,688.74 1229.34,702.87 1230.31,720.53 1231.28,731.12 1232.25,741.72 1233.22,752.32 1234.2,762.91 1235.17,773.51 1236.14,777.04 1237.11,784.1 1238.08,791.17 1239.06,794.7 1240.03,801.76 1241,801.76 1241.97,805.3 1242.94,805.3 1243.92,808.83 1244.89,812.36 1245.86,815.89 1246.83,822.96 1247.8,822.96 1248.78,826.49 1249.75,830.02 1250.72,833.55 1251.69,837.08 1252.66,840.62 1253.64,844.15 1254.61,847.68 1255.58,851.21 1256.55,851.21 1257.52,854.74 1258.5,858.28 1259.47,861.81 1260.44,865.34 1261.41,868.87 1262.38,872.4 1263.36,872.4 1264.33,875.94 1265.3,879.47 1266.27,883 1267.24,883 1268.22,886.53 1270.16,886.53 1271.13,883 1272.1,879.47 1273.08,875.94 1274.05,865.34 1275.02,851.21 1275.99,826.49 1276.96,801.76 1277.94,777.04 1278.91,766.44 1279.88,755.85 1280.85,741.72 1281.82,738.19 1282.8,727.59 1283.77,724.06 1284.74,717 1285.71,717 1286.68,713.46 1292.52,713.46 1293.49,717 1294.46,724.06 1295.43,727.59 1296.4,738.19 1297.38,748.78 1298.35,759.38 1299.32,766.44 1300.29,773.51 1301.26,784.1 1302.24,791.17 1303.21,801.76 1304.18,808.83 1305.15,808.83 1306.12,812.36 1307.1,815.89 1308.07,815.89 1309.04,819.42 1310.01,822.96 1310.98,826.49 1311.96,826.49 1312.93,833.55 1313.9,833.55 1314.87,837.08 1315.84,837.08 1316.82,840.62 1318.76,840.62 1319.73,844.15 1320.7,847.68 1321.68,851.21 1322.65,854.74 1323.62,858.28 1324.59,861.81 1325.56,865.34 1326.54,865.34 1327.51,868.87 1328.48,872.4 1329.45,875.94 1330.42,875.94 1331.4,879.47 1332.37,883 1333.34,890.06 1335.28,890.06 1336.26,893.6 1339.17,893.6 1340.14,890.06 1341.12,883 1342.09,879.47 1343.06,861.81 1344.03,847.68 1345,822.96 1345.98,801.76 1346.95,784.1 1347.92,762.91 1348.89,752.32 1349.86,745.25 1350.84,734.66 1351.81,731.12 1352.78,724.06 1353.75,717 1354.72,713.46 1355.7,706.4 1356.67,702.87 1357.64,695.8 1358.61,688.74 1359.58,685.21 1360.56,688.74 1361.53,688.74 1362.5,692.27 1363.47,692.27 1364.44,688.74 1365.42,685.21 1366.39,688.74 1367.36,692.27 1368.33,695.8 1369.3,702.87 1370.28,709.93 1371.25,717 1372.22,724.06 1373.19,734.66 1374.16,741.72 1375.14,752.32 1376.11,762.91 1377.08,773.51 1378.05,780.57 1379.02,787.64 1380,794.7 1380.97,798.23 1381.94,808.83 1382.91,815.89 1383.88,819.42 1384.86,822.96 1385.83,826.49 1386.8,830.02 1387.77,833.55 1388.74,837.08 1389.72,840.62 1390.69,844.15 1391.66,847.68 1392.63,851.21 1393.6,854.74 1394.58,858.28 1395.55,861.81 1396.52,865.34 1397.49,868.87 1398.46,872.4 1399.44,875.94 1400.41,879.47 1401.38,883 1402.35,886.53 1403.32,893.6 1404.3,893.6 1405.27,897.13 1406.24,900.66 1407.21,904.19 1408.18,904.19 1409.16,907.72 1411.1,907.72 1412.07,911.26 1413.04,907.72 1414.99,907.72 1415.96,897.13 1416.93,890.06 1417.9,879.47 1418.88,865.34 1419.85,844.15 1420.82,826.49 1421.79,805.3 1422.76,791.17 1423.74,780.57 1424.71,769.98 1425.68,762.91 1426.65,755.85 1427.62,752.32 1428.6,748.78 1429.57,748.78 1430.54,745.25 1431.51,741.72 1434.43,741.72 1435.4,748.78 1436.37,752.32 1437.34,759.38 1438.32,766.44 1439.29,773.51 1440.26,777.04 1441.23,780.57 1442.2,784.1 1443.18,798.23 1444.15,805.3 1445.12,808.83 1446.09,812.36 1447.06,815.89 1448.04,819.42 1449.01,819.42 1449.98,822.96 1450.95,822.96 1451.92,826.49 1452.9,826.49 1453.87,830.02 1454.84,833.55 1455.81,833.55 1456.78,837.08 1457.76,840.62 1458.73,840.62 1459.7,844.15 1460.67,844.15 1461.64,847.68 1462.62,851.21 1463.59,851.21 1464.56,854.74 1465.53,854.74 1466.5,858.28 1467.48,858.28 1468.45,861.81 1469.42,865.34 1470.39,865.34 1471.36,868.87 1472.34,868.87 1473.31,872.4 1474.28,875.94 1475.25,879.47 1483.03,879.47 1484,872.4 1484.97,865.34 1485.94,854.74 1486.92,840.62 1487.89,822.96 1488.86,805.3 1489.83,787.64 1490.8,769.98 1491.78,755.85 1492.75,741.72 1493.72,734.66 1494.69,724.06 1495.66,720.53 1496.64,713.46 1497.61,709.93 1498.58,706.4 1499.55,702.87 1500.52,699.34 1501.5,695.8 1502.47,692.27 1503.44,692.27 1504.41,688.74 1505.38,685.21 1506.36,685.21 1507.33,688.74 1508.3,692.27 1509.27,695.8 1510.24,699.34 1511.22,699.34 1512.19,706.4 1513.16,717 1514.13,724.06 1515.1,734.66 1516.08,741.72 1517.05,748.78 1518.02,755.85 1518.99,762.91 1519.96,769.98 1520.94,777.04 1521.91,784.1 1522.88,791.17 1523.85,794.7 1524.82,798.23 1525.8,805.3 1526.77,808.83 1527.74,812.36 1528.71,815.89 1529.68,819.42 1530.66,822.96 1531.63,822.96 1532.6,826.49 1533.57,830.02 1534.54,833.55 1535.52,833.55 1536.49,840.62 1537.46,844.15 1538.43,847.68 1539.4,847.68 1540.38,851.21 1541.35,854.74 1542.32,858.28 1543.29,861.81 1544.26,865.34 1545.24,868.87 1546.21,868.87 1547.18,872.4 1549.12,872.4 1550.1,875.94 1552.04,875.94 1553.01,879.47 1554.96,879.47 1555.93,883 1556.9,883 1557.87,886.53 1558.84,886.53 1559.82,883 1560.79,879.47 1561.76,875.94 1562.73,868.87 1563.7,861.81 1564.68,851.21 1565.65,844.15 1566.62,833.55 1567.59,822.96 1568.56,812.36 1569.54,805.3 1570.51,805.3 1571.48,801.76 1572.45,798.23 1573.42,794.7 1574.4,794.7 1575.37,791.17 1580.23,791.17 1581.2,798.23 1582.17,805.3 1583.14,812.36 1584.12,819.42 1585.09,822.96 1586.06,822.96 1587.03,826.49 1588,826.49 1588.98,830.02 1589.95,830.02 1590.92,833.55 1591.89,837.08 1592.86,840.62 1593.84,844.15 1594.81,847.68 1595.78,851.21 1596.75,854.74 1597.72,858.28 1598.7,858.28 1599.67,861.81 1600.64,865.34 1601.61,865.34 1602.58,868.87 1603.56,868.87 1604.53,872.4 1605.5,875.94 1606.47,879.47 1607.44,875.94 1608.42,879.47 1609.39,875.94 1610.36,879.47 1611.33,879.47 1612.3,883 1613.28,886.53 1618.14,886.53 1619.11,890.06 1620.08,890.06 1621.05,893.6 1623,893.6 1623.97,890.06 1624.94,886.53 1625.91,883 1626.88,875.94 1627.86,868.87 1628.83,861.81 1629.8,851.21 1630.77,840.62 1631.74,826.49 1632.72,815.89 1633.69,801.76 1634.66,787.64 1635.63,780.57 1636.6,773.51 1637.58,766.44 1638.55,759.38 1639.52,755.85 1640.49,752.32 1641.46,748.78 1642.44,745.25 1643.41,745.25 1644.38,741.72 1645.35,738.19 1647.3,738.19 1648.27,734.66 1652.16,734.66 1653.13,738.19 1654.1,741.72 1655.07,741.72 1656.04,748.78 1657.02,755.85 1657.99,762.91 1658.96,769.98 1659.93,773.51 1660.9,780.57 1661.88,787.64 1662.85,791.17 1663.82,791.17 1664.79,798.23 1665.76,801.76 1666.74,805.3 1667.71,812.36 1668.68,815.89 1669.65,822.96 1670.62,826.49 1671.6,830.02 1672.57,833.55 1673.54,837.08 1674.51,837.08 1675.48,840.62 1676.46,844.15 1677.43,847.68 1678.4,847.68 1679.37,851.21 1680.34,854.74 1681.32,858.28 1682.29,861.81 1683.26,865.34 1684.23,868.87 1685.2,872.4 1686.18,875.94 1687.15,875.94 1688.12,879.47 1689.09,879.47 1690.06,883 1691.04,886.53 1692.01,890.06 1692.98,893.6 1694.92,893.6 1695.9,897.13 1696.87,897.13 1697.84,900.66 1699.78,900.66 1700.76,904.19 1701.73,904.19 1702.7,907.72 1704.64,907.72 1705.62,904.19 1707.56,904.19 1708.53,900.66 1709.5,900.66 1710.48,897.13 1711.45,897.13 1712.42,893.6 1713.39,890.06 1714.36,886.53 1715.34,883 1716.31,879.47 1717.28,875.94 1718.25,872.4 1719.22,872.4 1720.2,868.87 1721.17,865.34 1722.14,868.87 1724.08,868.87 1725.06,865.34 1726.03,861.81 1727,858.28 1728.94,858.28 1729.92,854.74 1730.89,854.74 1731.86,858.28 1732.83,858.28 1733.8,861.81 1734.78,861.81 1735.75,865.34 1736.72,865.34 1737.69,868.87 1738.66,872.4 1739.64,872.4 1740.61,875.94 1741.58,879.47 1742.55,879.47 1743.52,883 1744.5,886.53 1745.47,886.53 1746.44,890.06 1747.41,893.6 1748.38,893.6 1749.36,897.13 1750.33,893.6 1753.24,893.6 1754.22,897.13 1755.19,900.66 1756.16,904.19 1768.8,904.19 1769.77,897.13 1770.74,893.6 1771.71,890.06 1772.68,886.53 1773.66,883 1774.63,875.94 1775.6,868.87 1776.57,861.81 1777.54,858.28 1778.52,851.21 1779.49,844.15 1780.46,837.08 1781.43,826.49 1782.4,815.89 1783.38,808.83 1784.35,801.76 1785.32,794.7 1786.29,791.17 1787.26,784.1 1788.24,780.57 1789.21,777.04 1790.18,773.51 1791.15,769.98 1793.1,769.98 1794.07,773.51 1795.04,769.98 1797.96,769.98 1798.93,773.51 1799.9,773.51 1800.87,769.98 1802.82,769.98 1803.79,773.51 1804.76,777.04 1805.73,780.57 1806.7,787.64 1807.68,787.64 1808.65,791.17 1809.62,791.17 1810.59,794.7 1811.56,798.23 1812.54,801.76 1813.51,805.3 1814.48,808.83 1815.45,815.89 1816.42,819.42 1817.4,822.96 1818.37,826.49 1819.34,830.02 1820.31,833.55 1821.28,837.08 1822.26,840.62 1823.23,844.15 1824.2,844.15 1825.17,847.68 1826.14,851.21 1827.12,854.74 1828.09,858.28 1829.06,861.81 1830.03,861.81 1831,865.34 1831.98,868.87 1832.95,872.4 1833.92,872.4 1834.89,875.94 1835.86,879.47 1836.84,883 1837.81,883 1838.78,886.53 1839.75,886.53 1840.72,893.6 1841.7,893.6 1842.67,897.13 1843.64,897.13 1844.61,900.66 1846.56,900.66 1847.53,904.19 1848.5,907.72 1849.47,907.72 1850.44,911.26 1851.42,911.26 1852.39,914.79 1853.36,914.79 1854.33,911.26 1859.19,911.26 1860.16,907.72 1861.14,904.19 1862.11,904.19 1863.08,900.66 1864.05,893.6 1865.02,893.6 1866,890.06 1866.97,886.53 1869.88,886.53 1870.86,883 1871.83,879.47 1872.8,875.94 1873.77,868.87 1879.6,868.87 1880.58,865.34 1881.55,865.34 1882.52,861.81 1883.49,861.81 1884.46,858.28 1885.44,858.28 1886.41,861.81 1887.38,865.34 1894.18,865.34 1895.16,868.87 1897.1,868.87 1898.07,872.4 1899.04,872.4 1900.02,875.94 1900.99,875.94 1901.96,879.47 1902.93,879.47 1903.9,883 1904.88,883 1905.85,886.53 1906.82,886.53 1907.79,890.06 1908.76,886.53 1911.68,886.53 1912.65,890.06 1913.62,890.06 1914.6,893.6 1917.51,893.6 1918.48,897.13 1919.46,897.13 1920.43,900.66 1923.34,900.66 1924.32,897.13 1925.29,897.13 1926.26,893.6 1927.23,893.6 1928.2,890.06 1929.18,883 1930.15,879.47 1931.12,872.4 1932.09,861.81 1933.06,851.21 1934.04,840.62 1935.01,833.55 1935.98,826.49 1936.95,822.96 1937.92,815.89 1938.9,808.83 1939.87,805.3 1940.84,801.76 1941.81,794.7 1942.78,791.17 1943.76,787.64 1944.73,787.64 1945.7,784.1 1946.67,784.1 1947.64,780.57 1950.56,780.57 1951.53,784.1 1952.5,784.1 1953.48,787.64 1956.39,787.64 1957.36,791.17 1958.34,794.7 1959.31,798.23 1960.28,801.76 1961.25,808.83 1962.22,812.36 1963.2,815.89 1964.17,819.42 1965.14,822.96 1966.11,826.49 1967.08,830.02 1968.06,833.55 1969.03,837.08 1970,840.62 1970.97,844.15 1971.94,847.68 1972.92,851.21 1973.89,854.74 1974.86,858.28 1975.83,861.81 1976.8,865.34 1977.78,868.87 1978.75,872.4 1979.72,875.94 1980.69,879.47 1981.66,883 1982.64,883 1983.61,886.53 1984.58,890.06 1985.55,890.06 1986.52,893.6 1987.5,893.6 1988.47,897.13 1989.44,900.66 1990.41,904.19 1991.38,907.72 1992.36,911.26 1993.33,914.79 1994.3,914.79 1995.27,918.32 1996.24,918.32 1997.22,921.85 1999.16,921.85 2000.13,925.38 2002.08,925.38 2003.05,928.92 2004.99,928.92 2005.96,925.38 2006.94,925.38 2007.91,921.85 2008.88,918.32 2009.85,911.26 2010.82,911.26 2011.8,904.19 2012.77,897.13 2013.74,893.6 2014.71,886.53 2015.68,879.47 2016.66,872.4 2017.63,861.81 2018.6,858.28 2019.57,851.21 2020.54,844.15 2021.52,840.62 2022.49,837.08 2023.46,833.55 2024.43,833.55"/>
<g fill="#000">
<rect x="272" y="173" width="6" height="1444"/>
<rect x="247" y="1586" width="1781" height="6"/>
<rect x="247" y="173.1" width="28" height="6.6"/>
<rect x="261" y="261.5" width="14" height="6.4"/>
<rect x="247" y="349.7" width="28" height="6.6"/>
<rect x="261" y="438.1" width="14" height="6.4"/>
<rect x="247" y="526.3" width="28" height="6.6"/>
<rect x="261" y="614.7" width="14" height="6.4"/>
<rect x="247" y="702.9" width="28" height="6.6"/>
<rect x="261" y="791.3" width="14" height="6.4"/>
<rect x="247" y="879.5" width="28" height="6.6"/>
<rect x="261" y="967.9" width="14" height="6.4"/>
<rect x="247" y="1056.1" width="28" height="6.6"/>
<rect x="261" y="1144.5" width="14" height="6.4"/>
<rect x="247" y="1232.7" width="28" height="6.6"/>
<rect x="261" y="1321.1" width="14" height="6.4"/>
<rect x="247" y="1409.3" width="28" height="6.6"/>
<rect x="261" y="1497.7" width="14" height="6.4"/>
<rect x="832" y="1589" width="6" height="28"/>
<rect x="1392" y="1589" width="6" height="28"/>
<rect x="1952" y="1589" width="6" height="28"/>
<rect x="552" y="1589" width="6" height="14"/>
<rect x="1112" y="1589" width="6" height="14"/>
<rect x="1672" y="1589" width="6" height="14"/>
</g>
<g font-family="'Liberation Serif', serif" font-size="63.5px" fill="#000">
<text x="229.5" y="190.8" text-anchor="end" textLength="76.9" lengthAdjust="spacingAndGlyphs">4.5</text>
<text x="229.5" y="367.4" text-anchor="end" textLength="76.9" lengthAdjust="spacingAndGlyphs">4.0</text>
<text x="229.5" y="544.0" text-anchor="end" textLength="76.9" lengthAdjust="spacingAndGlyphs">3.5</text>
<text x="229.5" y="720.6" text-anchor="end" textLength="76.9" lengthAdjust="spacingAndGlyphs">3.0</text>
<text x="229.5" y="897.2" text-anchor="end" textLength="76.9" lengthAdjust="spacingAndGlyphs">2.5</text>
<text x="229.5" y="1073.8" text-anchor="end" textLength="76.9" lengthAdjust="spacingAndGlyphs">2.0</text>
<text x="229.5" y="1250.4" text-anchor="end" textLength="76.9" lengthAdjust="spacingAndGlyphs">1.5</text>
<text x="229.5" y="1427.0" text-anchor="end" textLength="76.9" lengthAdjust="spacingAndGlyphs">1.0</text>
<text x="229.5" y="1603.6" text-anchor="end" textLength="76.9" lengthAdjust="spacingAndGlyphs">0.5</text>
<text x="274.3" y="1678.3" text-anchor="middle" textLength="280.2" lengthAdjust="spacingAndGlyphs">2021/10/19</text>
<text x="834.3" y="1678.3" text-anchor="middle" textLength="280.2" lengthAdjust="spacingAndGlyphs">2021/10/23</text>
<text x="1394.3" y="1678.3" text-anchor="middle" textLength="280.2" lengthAdjust="spacingAndGlyphs">2021/10/27</text>
<text x="1954.3" y="1678.3" text-anchor="middle" textLength="280.2" lengthAdjust="spacingAndGlyphs">2021/10/31</text>
</g>
<g font-family="'Liberation Serif', serif" font-size="76.5px" fill="#000">
<text y="1823"><tspan x="1067.2" textLength="167.7" lengthAdjust="spacingAndGlyphs">Time</tspan></text>
<g transform="translate(65.7,1111.2) rotate(-90)">
<text y="0"><tspan x="0.0" textLength="197.5" lengthAdjust="spacingAndGlyphs">Water</tspan> <tspan x="216.2" textLength="291.6" lengthAdjust="spacingAndGlyphs">Level(m)</tspan></text>
</g>
<text y="106"><tspan x="1312.1" textLength="86.6" lengthAdjust="spacingAndGlyphs">Jin</tspan> <tspan x="1414.7" textLength="87.1" lengthAdjust="spacingAndGlyphs">Ze</tspan> <tspan x="1521.0" textLength="195.7" lengthAdjust="spacingAndGlyphs">Water</tspan> <tspan x="1735.4" textLength="178.0" lengthAdjust="spacingAndGlyphs">Level</tspan> <tspan x="1929.1" textLength="230.7" lengthAdjust="spacingAndGlyphs">Station</tspan></text>
<text y="214.5"><tspan x="1312.0" textLength="177.2" lengthAdjust="spacingAndGlyphs">Dong</tspan> <tspan x="1509.4" textLength="168.6" lengthAdjust="spacingAndGlyphs">Tuan</tspan> <tspan x="1698.0" textLength="195.7" lengthAdjust="spacingAndGlyphs">Water</tspan> <tspan x="1912.4" textLength="178.0" lengthAdjust="spacingAndGlyphs">Level</tspan> <tspan x="2106.1" textLength="230.2" lengthAdjust="spacingAndGlyphs">Station</tspan></text>
</g>
<rect x="1084" y="19.3" width="1262" height="226" fill="none" stroke="#000" stroke-width="2"/>
<rect x="1094" y="77" width="198" height="2" fill="#515151"/>
<rect x="1094" y="186" width="198" height="2" fill="#f14040"/>
</svg>
</body></html>
